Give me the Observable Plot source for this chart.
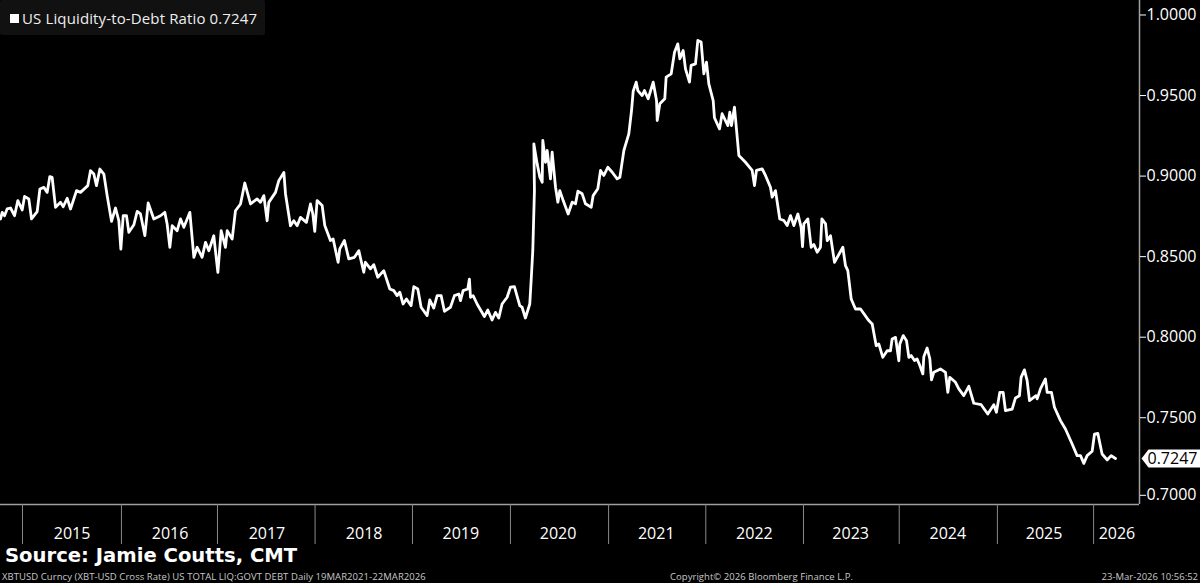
<!DOCTYPE html>
<html><head><meta charset="utf-8">
<script src="https://cdn.jsdelivr.net/npm/d3@7"></script>
<script src="https://cdn.jsdelivr.net/npm/@observablehq/plot@0.6"></script>
<style>
html,body{margin:0;padding:0;background:#000;width:1200px;height:583px;overflow:hidden;color:#fff}
#wrap{position:relative;width:1200px;height:583px}
#chart svg{display:block;background:#000}
#legend{position:absolute;left:0;top:0;width:265px;height:35px;background:#111;border-radius:2px}
#legend i{position:absolute;left:10px;top:14px;width:9px;height:9px;background:#fff}
#legend span{position:absolute;left:22px;top:8px;font:15px "Open Sans";color:#eee;white-space:nowrap;letter-spacing:.13px}
#source{position:absolute;left:5px;top:544px;font:bold 19.6px "DejaVu Sans";color:#fff;white-space:nowrap}
.foot{position:absolute;top:570px;font:9.5px "Open Sans";color:#c8c8c8;white-space:nowrap}
#f1{letter-spacing:.065px}
#f2{letter-spacing:.05px}
</style></head><body>
<div id="wrap"><div id="chart"></div>
<div id="legend"><i></i><span id="legendText"></span></div>
<div id="source"></div>
<div class="foot" id="f1" style="left:2px"></div>
<div class="foot" id="f2" style="left:670px"></div>
<div class="foot" id="f3" style="right:2px"></div>
</div>
<script>
const seriesName="US Liquidity-to-Debt Ratio";
const lastValue=0.7247;
const sourceText="Source: Jamie Coutts, CMT";
const footLeft="XBTUSD Curncy (XBT-USD Cross Rate) US TOTAL LIQ:GOVT DEBT Daily 19MAR2021-22MAR2026";
const footMid="Copyright\u00A9 2026 Bloomberg Finance L.P.";
const footRight="23-Mar-2026 10:56:52";
const yearTicks=[2015,2016.018,2017.006,2018.01,2019.012,2020.02,2021.03,2022.03,2023.035,2024.02,2025.03,2026.02];
const yearLabelPos=[2015.51,2016.518,2017.515,2018.515,2019.51,2020.51,2021.52,2022.53,2023.52,2024.52,2025.51,2026.26];
const valueTicks=[0.75,0.8,0.85,0.9,0.95,1];

const dates1=[2014.774,2014.791,2014.815,2014.842,2014.877,2014.918,2014.952,2014.997,2015.021,2015.065,2015.093,2015.151,2015.179,2015.220,2015.254,2015.281,2015.305,2015.340,2015.391,2015.419,2015.460,2015.494,2015.556,2015.597,2015.672,2015.700,2015.734,2015.761,2015.796,2015.837,2015.871,2015.916,2015.957,2015.991,2016.012,2016.036,2016.070,2016.094,2016.146,2016.180,2016.214,2016.259,2016.293,2016.351,2016.420,2016.464,2016.488,2016.516,2016.540,2016.591,2016.626,2016.660,2016.722,2016.763,2016.797,2016.848,2016.883,2016.917,2016.968,2017.010,2017.044,2017.088,2017.106,2017.157,2017.191,2017.243,2017.287,2017.346,2017.414,2017.448,2017.483,2017.517,2017.534,2017.603,2017.637,2017.689,2017.706,2017.757,2017.791,2017.826,2017.860];
const values1=[.8734,.8775,.8754,.8796,.8802,.8754,.8848,.8790,.8874,.8858,.8734,.8779,.8920,.8930,.8899,.8997,.8992,.8806,.8837,.8810,.8862,.8796,.8910,.8899,.8941,.9034,.9013,.8941,.9044,.9013,.8879,.8719,.8802,.8723,.8547,.8754,.8754,.8651,.8698,.8781,.8765,.8630,.8833,.8734,.8754,.8775,.8703,.8558,.8692,.8661,.8734,.8682,.8775,.8496,.8558,.8496,.8589,.8537,.8630,.8402,.8661,.8558,.8661,.8609,.8785,.8827,.8957,.8827,.8858,.8837,.8879,.8723,.8837,.8899,.8972,.9023,.8889,.8692,.8723,.8692,.8744];

const dates2=[2017.921,2017.963,2017.987,2018.007,2018.031,2018.083,2018.110,2018.168,2018.196,2018.247,2018.264,2018.312,2018.357,2018.415,2018.460,2018.511,2018.528,2018.580,2018.614,2018.655,2018.717,2018.779,2018.820,2018.854,2018.882,2018.916,2018.950,2018.998,2019.026,2019.067,2019.101,2019.163,2019.190,2019.231,2019.266,2019.307,2019.341,2019.403,2019.444,2019.489,2019.506,2019.533,2019.581,2019.598,2019.609,2019.636,2019.677,2019.752,2019.787,2019.831,2019.866,2019.900,2019.934,2019.986,2020.020,2020.061,2020.116,2020.140,2020.174,2020.219,2020.233,2020.250,2020.267];
const values2=[.8713,.8827,.8765,.8657,.8848,.8817,.8693,.8600,.8610,.8465,.8548,.8600,.8486,.8496,.8537,.8403,.8465,.8424,.8450,.8372,.8413,.8299,.8289,.8258,.8279,.8206,.8237,.8196,.8314,.8299,.8186,.8134,.8231,.8181,.8258,.8258,.8161,.8186,.8258,.8268,.8227,.8289,.8299,.8361,.8248,.8258,.8206,.8128,.8169,.8107,.8154,.8119,.8206,.8248,.8310,.8314,.8196,.8186,.8119,.8206,.8351,.8537,.8910];

const dates3=[2020.261,2020.295,2020.323,2020.347,2020.353,2020.381,2020.398,2020.432,2020.449,2020.484,2020.508,2020.528,2020.563,2020.614,2020.655,2020.690,2020.714,2020.758,2020.792,2020.851,2020.871,2020.919,2020.947,2020.981,2021.022,2021.067,2021.118,2021.146,2021.187,2021.238,2021.266,2021.283,2021.314,2021.331,2021.375,2021.399,2021.437,2021.489,2021.523,2021.530,2021.557,2021.608,2021.622,2021.674,2021.708,2021.742,2021.763,2021.797,2021.821,2021.862,2021.879,2021.924,2021.948,2021.982,2022.010,2022.037,2022.061,2022.106,2022.119,2022.171,2022.198,2022.257,2022.277,2022.294,2022.325,2022.370,2022.438,2022.507,2022.531,2022.551,2022.610,2022.644,2022.695,2022.713,2022.747,2022.791];
const values3=[.9200,.9076,.8993,.8962,.9221,.9086,.9159,.8983,.9148,.8931,.8838,.8910,.8848,.8765,.8838,.8828,.8906,.8890,.8828,.8807,.8879,.8921,.9035,.9004,.9055,.9024,.8983,.8993,.9159,.9262,.9407,.9527,.9583,.9531,.9500,.9531,.9480,.9583,.9469,.9345,.9449,.9480,.9614,.9635,.9769,.9821,.9728,.9780,.9666,.9583,.9687,.9697,.9842,.9832,.9635,.9707,.9573,.9469,.9362,.9293,.9387,.9314,.9397,.9314,.9428,.9128,.9086,.9035,.8941,.9035,.9045,.9004,.8931,.8869,.8910,.8734];

const dates4=[2022.833,2022.867,2022.902,2022.936,2022.977,2023.011,2023.025,2023.039,2023.080,2023.114,2023.142,2023.176,2023.210,2023.224,2023.262,2023.279,2023.313,2023.354,2023.440,2023.467,2023.491,2023.526,2023.570,2023.622,2023.707,2023.742,2023.783,2023.810,2023.851,2023.896,2023.930,2023.947,2023.982,2024.016,2024.026,2024.061,2024.095,2024.119];
const values4=[.8724,.8693,.8755,.8693,.8765,.8682,.8562,.8703,.8734,.8558,.8575,.8527,.8558,.8734,.8703,.8599,.8630,.8465,.8558,.8444,.8413,.8237,.8175,.8175,.8103,.8082,.7947,.7958,.7875,.7916,.7916,.7989,.7999,.7854,.7958,.8010,.7978,.7875];

const dates5=[2024.143,2024.177,2024.204,2024.232,2024.263,2024.273,2024.307,2024.335,2024.352,2024.376,2024.444,2024.496,2024.520,2024.540,2024.599,2024.633,2024.684,2024.736,2024.787,2024.863,2024.931,2024.993,2025.020,2025.055,2025.089,2025.113,2025.182,2025.216,2025.257,2025.274,2025.308,2025.336,2025.360,2025.428,2025.439,2025.473,2025.524,2025.542,2025.586,2025.617,2025.679,2025.730,2025.799,2025.850,2025.885,2025.919,2025.953,2026.005,2026.029,2026.063,2026.107,2026.159,2026.200,2026.245];
const values5=[.7886,.7855,.7865,.7824,.7772,.7879,.7933,.7865,.7735,.7782,.7803,.7782,.7658,.7751,.7720,.7679,.7637,.7695,.7590,.7581,.7523,.7581,.7534,.7658,.7658,.7544,.7554,.7623,.7637,.7751,.7797,.7730,.7606,.7637,.7617,.7679,.7741,.7658,.7658,.7565,.7482,.7430,.7337,.7265,.7265,.7217,.7265,.7292,.7399,.7403,.7275,.7238,.7265,.7247];

const dates=[...dates1,...dates2,...dates3,...dates4,...dates5];
const values=[...values1,...values2,...values3,...values4,...values5];
const series=dates.map((d,i)=>({d,v:values[i]}));

document.getElementById("legendText").textContent=seriesName+" "+lastValue.toFixed(4);
document.getElementById("source").textContent=sourceText;
document.getElementById("f1").textContent=footLeft;
document.getElementById("f2").textContent=footMid;
document.getElementById("f3").textContent=footRight;

const xMin=2014.7737,xMax=2026.492,yMin=0.69615,yMax=1.009;
const axisColor="#a0a0a0";
const font="Open Sans";
const tagSymbol={draw(c){c.moveTo(2,0);c.lineTo(9,-9);c.lineTo(61,-9);c.lineTo(61,9);c.lineTo(9,9);c.closePath();}};

const chart=Plot.plot({
  width:1200,height:545,marginTop:0,marginBottom:41,marginLeft:0,marginRight:61,
  style:{background:"#000",color:"#fff",fontFamily:font,fontSize:"16px",overflow:"visible"},
  x:{type:"linear",domain:[xMin,xMax]},
  y:{type:"linear",domain:[yMin,yMax]},
  marks:[
    Plot.ruleY([yMin],{stroke:axisColor,strokeWidth:1.5}),
    Plot.ruleX([xMax],{stroke:axisColor,strokeWidth:1.5}),
    Plot.axisX({ticks:yearTicks,tickSize:40,tickFormat:()=>"",stroke:"#8a8a8a",label:null}),
    Plot.axisX({ticks:yearLabelPos,tickSize:0,tickPadding:23,tickFormat:d=>String(Math.floor(d)),fill:"#fff",fontSize:16,label:null,tickRotate:0}),
    Plot.axisY({anchor:"right",ticks:valueTicks,tickSize:6,tickPadding:1,tickFormat:d3.format(".4f"),stroke:"#fff",fill:"#fff",fontSize:16,label:null}),
    Plot.axisY({anchor:"right",ticks:[0.7],tickSize:6,tickPadding:1,tickFormat:d3.format(".4f"),stroke:"#fff",fill:"#fff",fontSize:16,label:null,dy:-3}),
    Plot.line(series,{x:"d",y:"v",stroke:"#fff",strokeWidth:2.8,strokeLinejoin:"round",curve:"linear"}),
    Plot.dot([lastValue],{x:()=>xMax,y:d=>d,symbol:tagSymbol,fill:"#fff",stroke:"none",r:5}),
    Plot.text([lastValue],{x:()=>xMax,y:d=>d,text:d=>d.toFixed(4),fill:"#000",textAnchor:"start",dx:8,fontSize:16})
  ]
});
document.getElementById("chart").appendChild(chart);
</script>
</body></html>
